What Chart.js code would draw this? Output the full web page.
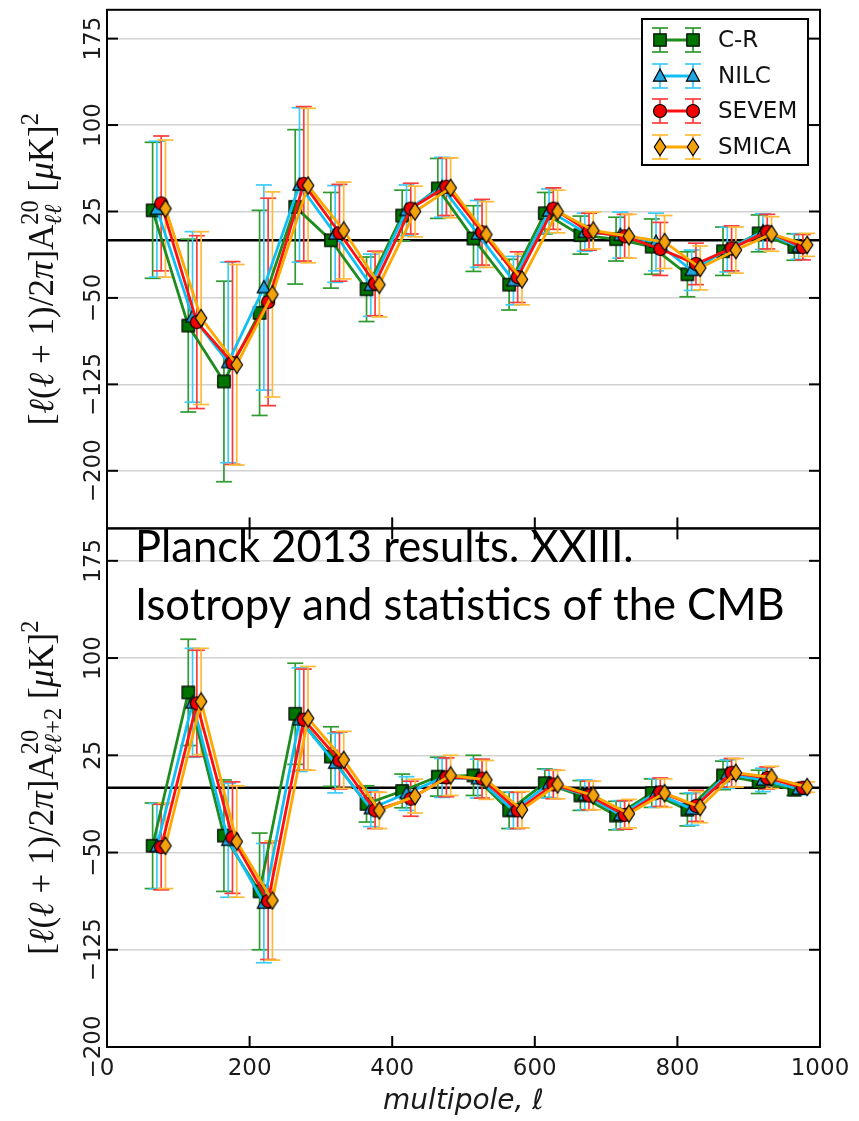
<!DOCTYPE html>
<html lang="en">
<head>
<meta charset="UTF-8">
<title>A20 bipolar coefficients - Planck 2013 XXIII</title>
<script src="https://cdn.jsdelivr.net/npm/chart.js@4.4.1/dist/chart.umd.min.js"></script>
<style>
  html, body { margin: 0; padding: 0; background: #fff; }
  #wrap { position: relative; width: 859px; height: 1121px; }
</style>
</head>
<body>
<div id="wrap"><canvas id="cmb" width="859" height="1121"></canvas></div>
<script>
// multipole bins and the small shift applied to each component-separation method
const methods = ['C-R', 'NILC', 'SEVEM', 'SMICA'];
const methodShift = [0, 6, 12, 18];
const ellBins = [64, 114, 164, 214, 264, 314, 364, 414, 464, 514, 564, 614, 664, 714, 764, 814, 864, 914, 964];
const xTicks = [0, 200, 400, 600, 800, 1000];
const yTicks = [-200, -125, -50, 25, 100, 175];

// upper panel: A^20_{l l}
const llCR       = [26, -74, -122.5, -63, 29, 0, -42.5, 21.5, 45, 1.5, -38.5, 23.5, 4.5, 1, -5.5, -29.5, -9.5, 6, -5.8];
const llCRErr    = [59, 75, 87, 89, 67, 41.5, 28, 22, 26, 28.5, 22, 18, 16.5, 19, 24, 19.5, 21, 16, 11.5];
const llNILC     = [27, -66.5, -106, -41, 48, 5.5, -39, 26, 46, 5.5, -35, 25.5, 7, 4.5, -1.5, -26, -8, 7.5, -5.5];
const llNILCErr  = [59, 74, 87, 89, 67, 42, 27, 22, 26, 29, 21, 19, 16.5, 20, 25, 17.5, 19.5, 15.5, 11];
const llSEVEM    = [32, -71, -106.5, -53.5, 49, 6.5, -37.5, 27.5, 46.5, 7, -32, 27.5, 7.5, 3.5, -7.5, -20.5, -7, 7.5, -6];
const llSEVEMErr = [58.5, 75, 88, 90, 67, 42, 28, 22, 25, 28.5, 22, 18, 16, 19, 23, 18, 19.5, 15, 11];
const llSMICA    = [27.5, -67.5, -108, -47, 47.5, 8.5, -38.5, 25, 45.5, 5, -34, 25, 8.5, 3.5, -1.5, -24, -8.5, 5.5, -4];
const llSMICAErr = [59.5, 75, 87, 89, 67, 42, 28, 22, 26, 28.5, 22, 18.5, 16, 19, 23, 19, 20, 15, 10];

// lower panel: A^20_{l l+2}
const l2CR       = [-44.8, 73.5, -37, -80, 57, 24, -12.5, -2.5, 8.5, 9.5, -17.5, 3.5, -6, -21.5, -4.2, -17, 9.5, 4.5, -1.5];
const l2CRErr    = [33, 41, 43, 45, 39, 23, 14, 13, 15, 15.5, 14, 11, 11.5, 11, 11, 12.5, 11, 9, 4.5];
const l2NILC     = [-45.2, 65.5, -40.5, -89, 52.5, 19, -16, -4.5, 7.5, 7, -17.5, 3, -5.5, -21, -4, -16.5, 10.5, 6, -1];
const l2NILCErr  = [33, 42, 44, 46, 40, 23, 14, 13, 15, 15, 14, 11, 11.5, 11, 11, 12.5, 11, 9, 4.5];
const l2SEVEM    = [-45.8, 65, -38.5, -87.5, 52.5, 21, -17.5, -8.5, 8, 7, -17.5, 2.5, -6, -21, -3.5, -14, 11.5, 7.5, 0];
const l2SEVEMErr = [33, 41, 43, 45, 39, 22, 14, 13.5, 15, 15, 14, 11, 11, 11, 11, 12, 11, 8.5, 4];
const l2SMICA    = [-44.8, 66.5, -41.5, -87, 53.5, 21.5, -17.5, -6.5, 9.5, 6, -17, 2.5, -6, -20, -4.2, -15, 11.5, 8, 0.5];
const l2SMICAErr = [33, 41, 43, 46, 40, 22, 14, 13, 15.5, 15, 14, 11, 11, 11, 11, 12, 11, 8.5, 4];

const upperVals = [llCR, llNILC, llSEVEM, llSMICA];
const upperErrs = [llCRErr, llNILCErr, llSEVEMErr, llSMICAErr];
const lowerVals = [l2CR, l2NILC, l2SEVEM, l2SMICA];
const lowerErrs = [l2CRErr, l2NILCErr, l2SEVEMErr, l2SMICAErr];

// per-method styling
const looks = [
  { line: '#1f8c1f', fill: '#007400', bar: '#2f9a2f', shape: 'square' },
  { line: '#10bff5', fill: '#1fa4e2', bar: '#3ccbfa', shape: 'triangle' },
  { line: '#ff1010', fill: '#f00000', bar: '#ff3a3a', shape: 'circle' },
  { line: '#ffa800', fill: '#f4a20c', bar: '#ffbb38', shape: 'diamond' }
];

function makeMarker(shape, fill) {
  const c = document.createElement('canvas');
  c.width = 20; c.height = 20;
  const g = c.getContext('2d');
  g.translate(10, 10);
  g.beginPath();
  if (shape === 'square') g.rect(-6.2, -6.2, 12.4, 12.4);
  else if (shape === 'triangle') { g.moveTo(0, -7); g.lineTo(6.6, 5.2); g.lineTo(-6.6, 5.2); g.closePath(); }
  else if (shape === 'circle') g.arc(0, 0, 6.5, 0, Math.PI * 2);
  else { g.moveTo(0, -8.6); g.lineTo(5.7, 0); g.lineTo(0, 8.6); g.lineTo(-5.7, 0); g.closePath(); }
  g.fillStyle = fill;
  g.fill();
  g.lineWidth = 1.2;
  g.strokeStyle = '#000';
  g.stroke();
  return c;
}
const markers = looks.map(l => makeMarker(l.shape, l.fill));

function buildSets(vals, errs, axis) {
  return vals.map((series, k) => ({
    label: methods[k],
    yAxisID: axis,
    data: ellBins.map((l, j) => ({ x: l + methodShift[k], y: series[j] })),
    errors: errs[k],
    barColor: looks[k].bar,
    borderColor: looks[k].line,
    backgroundColor: looks[k].fill,
    borderWidth: 2.8,
    pointStyle: markers[k],
    pointRadius: 7,
    pointHoverRadius: 7,
    fill: false,
    tension: 0,
    order: 4 - k
  }));
}

function line(ctx, x1, y1, x2, y2) {
  ctx.beginPath(); ctx.moveTo(x1, y1); ctx.lineTo(x2, y2); ctx.stroke();
}

function tickText(v) {
  return v < 0 ? '\u2212' + Math.abs(v) : String(v);
}

// simple math-text writer for the rotated y titles
function drawMath(ctx, parts, bx, cy, size) {
  const fam = '"Liberation Serif", "DejaVu Serif", serif';
  const font = (it, sz) => (it ? 'italic ' : '') + sz.toFixed(1) + 'px ' + fam;
  const small = size * 0.7;
  const runWidth = (run, sz) => run.reduce((w, q) => { ctx.font = font(q.it, sz); return w + ctx.measureText(q.t).width; }, 0);
  const widths = parts.map(p => (p.sup || p.sub)
    ? Math.max(p.sup ? runWidth(p.sup, small) : 0, p.sub ? runWidth(p.sub, small) : 0)
    : runWidth([p], size));
  const total = widths.reduce((a, b) => a + b, 0);
  ctx.save();
  ctx.translate(bx, cy);
  ctx.rotate(-Math.PI / 2);
  ctx.fillStyle = '#111';
  ctx.textBaseline = 'alphabetic';
  ctx.textAlign = 'left';
  let x = -total / 2;
  parts.forEach((p, i) => {
    if (p.sup || p.sub) {
      [['sup', -0.42 * size], ['sub', 0.24 * size]].forEach(([k, dy]) => {
        if (!p[k]) return;
        let xx = x;
        p[k].forEach(q => { ctx.font = font(q.it, small); ctx.fillText(q.t, xx, dy); xx += ctx.measureText(q.t).width; });
      });
    } else {
      ctx.font = font(p.it, size);
      ctx.fillText(p.t, x, 0);
    }
    x += widths[i];
  });
  ctx.restore();
}

const ell = { t: '\u2113', it: true };
const titleHead = [
  { t: '[' }, ell, { t: '(' }, ell, { t: ' + 1)/2' }, { t: '\u03c0', it: true }, { t: ']A' }
];
const titleTail = [{ t: ' [' }, { t: '\u03bc', it: true }, { t: 'K]' }, { sup: [{ t: '2' }] }];
const upperTitle = titleHead.concat([{ sup: [{ t: '20' }], sub: [ell, ell] }], titleTail);
const lowerTitle = titleHead.concat([{ sup: [{ t: '20' }], sub: [ell, ell, { t: '+2' }] }], titleTail);

const decor = {
  id: 'decor',
  beforeDatasetsDraw(chart) {
    const { ctx, chartArea: a } = chart;
    const xs = chart.scales.x;
    ctx.save();
    ctx.strokeStyle = '#000';
    ctx.lineWidth = 2.6;
    ['yTop', 'yBot'].forEach(id => {
      const y = chart.scales[id].getPixelForValue(0);
      line(ctx, a.left, y, a.right, y);
    });
    const cap = 8;
    ctx.lineWidth = 1.7;
    chart.data.datasets.forEach(ds => {
      const ys = chart.scales[ds.yAxisID];
      ctx.strokeStyle = ds.barColor;
      ds.data.forEach((p, j) => {
        const px = xs.getPixelForValue(p.x);
        const hi = ys.getPixelForValue(p.y + ds.errors[j]);
        const lo = ys.getPixelForValue(p.y - ds.errors[j]);
        line(ctx, px, hi, px, lo);
        line(ctx, px - cap, hi, px + cap, hi);
        line(ctx, px - cap, lo, px + cap, lo);
      });
    });
    ctx.restore();
  },
  afterDatasetsDraw(chart) {
    const { ctx, chartArea: a } = chart;
    const xs = chart.scales.x;
    ctx.save();
    ctx.strokeStyle = '#000';
    ctx.lineWidth = 2;
    ['yTop', 'yBot'].forEach((id, n) => {
      const s = chart.scales[id];
      ctx.strokeRect(a.left, s.top, a.right - a.left, s.bottom - s.top);
      yTicks.forEach(v => {
        const y = s.getPixelForValue(v);
        line(ctx, a.left, y, a.left + 11, y);
        line(ctx, a.right - 11, y, a.right, y);
      });
      xTicks.forEach(v => {
        const x = xs.getPixelForValue(v);
        line(ctx, x, s.bottom, x, s.bottom - 11);
        if (n === 1) line(ctx, x, s.top, x, s.top + 11);
      });
    });
    ctx.restore();
  },
  afterDraw(chart) {
    const { ctx, chartArea: a } = chart;
    ctx.save();
    // rotated y tick labels
    ctx.fillStyle = '#1a1a1a';
    ctx.font = '23px "DejaVu Sans", sans-serif';
    ctx.textAlign = 'center';
    ctx.textBaseline = 'alphabetic';
    ['yTop', 'yBot'].forEach(id => {
      const s = chart.scales[id];
      yTicks.forEach(v => {
        ctx.save();
        ctx.translate(a.left - 7, s.getPixelForValue(v));
        ctx.rotate(-Math.PI / 2);
        ctx.fillText(tickText(v), 0, 0);
        ctx.restore();
      });
    });
    const top = chart.scales.yTop, bot = chart.scales.yBot;
    drawMath(ctx, upperTitle, 53, (top.top + top.bottom) / 2, 35);
    drawMath(ctx, lowerTitle, 53, (bot.top + bot.bottom) / 2, 35);

    // legend
    const lx = 642, ly = 19, lw = 166, lh = 146;
    ctx.fillStyle = '#fff';
    ctx.fillRect(lx, ly, lw, lh);
    ctx.strokeStyle = '#000';
    ctx.lineWidth = 2;
    ctx.strokeRect(lx, ly, lw, lh);
    const rows = [40, 76, 111, 147];
    methods.forEach((m, k) => {
      const y = rows[k], x1 = 660, x2 = 693;
      ctx.strokeStyle = looks[k].bar;
      ctx.lineWidth = 1.7;
      [x1, x2].forEach(x => {
        line(ctx, x, y - 12, x, y + 12);
        line(ctx, x - 8, y - 12, x + 8, y - 12);
        line(ctx, x - 8, y + 12, x + 8, y + 12);
      });
      ctx.strokeStyle = looks[k].line;
      ctx.lineWidth = 2.8;
      line(ctx, x1, y, x2, y);
      [x1, x2].forEach(x => ctx.drawImage(markers[k], x - 10, y - 10));
      ctx.fillStyle = '#111';
      ctx.font = '23px "DejaVu Sans", sans-serif';
      ctx.textAlign = 'left';
      ctx.textBaseline = 'middle';
      ctx.fillText(m, 718, y + 1);
    });

    // citation written across the lower panel
    const cite1 = 'Planck 2013 results. XXIII.';
    const cite2 = 'Isotropy and statistics of the CMB';
    ctx.font = '44px Lato, "Open Sans", sans-serif';
    const size = 44 * 650 / ctx.measureText(cite2).width;
    ctx.font = size.toFixed(1) + 'px Lato, "Open Sans", sans-serif';
    ctx.fillStyle = '#000';
    ctx.textAlign = 'left';
    ctx.textBaseline = 'alphabetic';
    ctx.fillText(cite1, 135, 562);
    ctx.fillText(cite2, 135, 620);
    ctx.restore();
  }
};

const yCommon = {
  type: 'linear',
  position: 'left',
  stack: 'panels',
  stackWeight: 1,
  afterBuildTicks: s => { s.ticks = yTicks.map(v => ({ value: v })); },
  afterFit: s => { s.width = 107; },
  ticks: { display: false },
  grid: { color: '#d2d2d2', lineWidth: 1.5, drawTicks: false },
  border: { display: false }
};

new Chart(document.getElementById('cmb'), {
  type: 'line',
  data: {
    datasets: buildSets(upperVals, upperErrs, 'yTop').concat(buildSets(lowerVals, lowerErrs, 'yBot'))
  },
  options: {
    responsive: false,
    animation: false,
    events: [],
    layout: { padding: { left: 0, right: 39, top: 8, bottom: 0 } },
    plugins: { legend: { display: false }, tooltip: { enabled: false } },
    scales: {
      x: {
        type: 'linear',
        min: 0,
        max: 1000,
        afterBuildTicks: s => { s.ticks = xTicks.map(v => ({ value: v })); },
        afterFit: s => { s.height = 74; },
        ticks: {
          font: { family: 'DejaVu Sans', size: 23 },
          color: '#1a1a1a',
          padding: 8,
          maxRotation: 0,
          callback: v => String(v)
        },
        grid: { display: false, drawTicks: false },
        border: { display: false },
        title: {
          display: true,
          text: 'multipole, \u2113',
          font: { family: 'DejaVu Sans', size: 28, style: 'italic' },
          color: '#1a1a1a',
          padding: { top: 0, bottom: 2 }
        }
      },
      yTop: Object.assign({}, yCommon, { min: -250, max: 200, weight: 2 }),
      yBot: Object.assign({}, yCommon, { min: -200, max: 200, weight: 1 })
    }
  },
  plugins: [decor]
});
</script>
</body>
</html>
